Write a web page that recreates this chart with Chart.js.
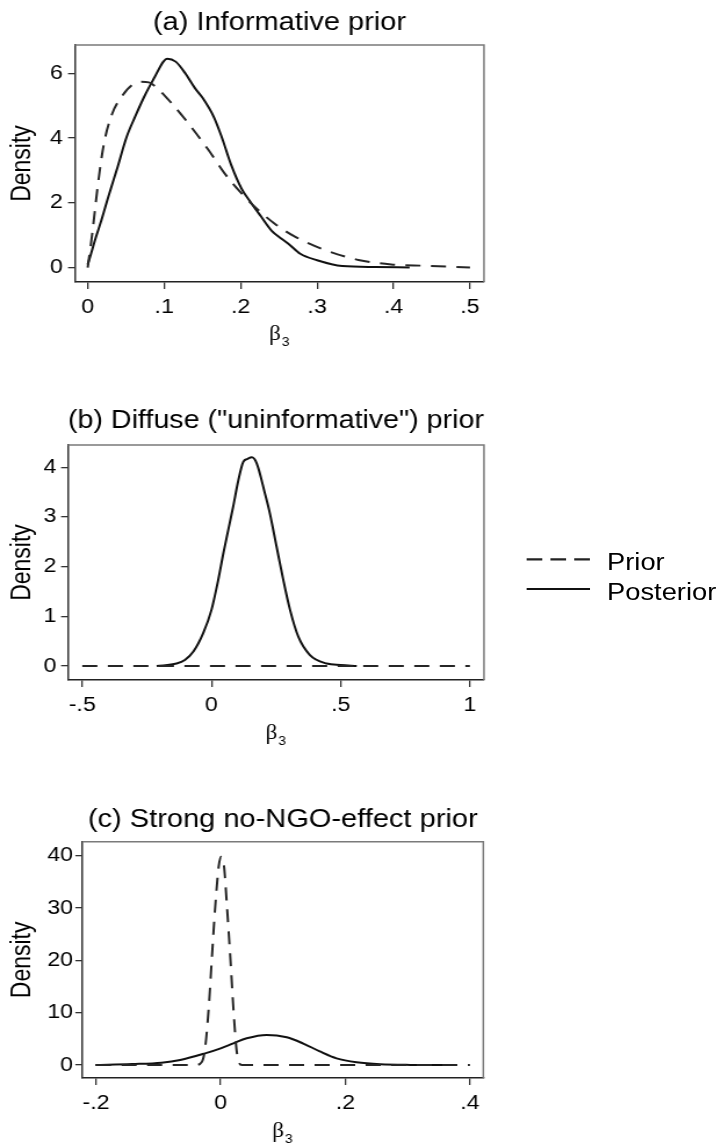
<!DOCTYPE html>
<html><head><meta charset="utf-8">
<script src="https://cdn.jsdelivr.net/npm/chart.js@4.4.1/dist/chart.umd.min.js"></script>
<style>
html,body{margin:0;padding:0;background:#fff;}
#wrap{position:relative;width:622px;height:1143px;transform:scaleX(1.16077);transform-origin:0 0;}
canvas{position:absolute;left:0;}
.leg{position:absolute;font-family:"Liberation Sans",Arial,sans-serif;font-size:23.5px;color:#000;line-height:24px;white-space:nowrap;}
</style></head>
<body>
<div id="wrap">
<canvas id="cA" width="622" height="360" style="top:0px;width:622px;height:360px"></canvas>
<canvas id="cB" width="622" height="390" style="top:360px;width:622px;height:390px"></canvas>
<canvas id="cC" width="622" height="393" style="top:750px;width:622px;height:393px"></canvas>
<svg style="position:absolute;left:0;top:0" width="622" height="1143">
  <line x1="453.7" y1="559.3" x2="508.3" y2="559.3" stroke="#222" stroke-width="2.2" stroke-dasharray="13.5 7"/>
  <line x1="453.7" y1="589" x2="508.3" y2="589" stroke="#111" stroke-width="2.2"/>
</svg>
<div class="leg" style="left:523px;top:550.4px">Prior</div>
<div class="leg" style="left:523px;top:580.4px">Posterior</div>
</div>
<script>
// ---------- data ----------
const seriesNames = ['Prior', 'Posterior'];
const panelTitles = ['(a) Informative prior', '(b) Diffuse ("uninformative") prior', '(c) Strong no-NGO-effect prior'];
const xAxisSymbol = 'β';
const xAxisSubscript = '3';
const yAxisTitle = 'Density';

// (a) Informative prior
const aPriorX = [0, 0.006, 0.013, 0.021, 0.032, 0.045, 0.058, 0.070, 0.080, 0.090, 0.110, 0.1315, 0.158, 0.179, 0.201, 0.223, 0.245, 0.271, 0.310, 0.354, 0.397, 0.441, 0.500];
const aPriorY = [0, 1.06, 2.50, 3.80, 4.75, 5.30, 5.64, 5.74, 5.72, 5.56, 5.07, 4.46, 3.63, 2.91, 2.30, 1.78, 1.35, 0.96, 0.55, 0.24, 0.10, 0.06, 0.01];
const aPostX = [0.000, 0.004, 0.0095, 0.018, 0.027, 0.038, 0.051, 0.062, 0.075, 0.088, 0.099, 0.104, 0.115, 0.127, 0.140, 0.150, 0.165, 0.175, 0.188, 0.201, 0.214, 0.227, 0.241, 0.252, 0.262, 0.278, 0.300, 0.333, 0.376, 0.421];
const aPostY = [0.10, 0.40, 0.85, 1.47, 2.19, 3.02, 4.04, 4.66, 5.33, 5.90, 6.36, 6.45, 6.36, 6.02, 5.55, 5.25, 4.65, 4.05, 3.15, 2.45, 1.99, 1.57, 1.13, 0.92, 0.75, 0.43, 0.23, 0.05, 0.02, 0.01];
const aXTicks = [0, 0.1, 0.2, 0.3, 0.4, 0.5];
const aXLabels = ['0', '.1', '.2', '.3', '.4', '.5'];
const aYTicks = [0, 2, 4, 6];
const aYLabels = ['0', '2', '4', '6'];

// (b) Diffuse prior
const bPriorX = [-0.5, -0.25, 0, 0.25, 0.5, 0.75, 1.0];
const bPriorY = [0, 0, 0, 0, 0, 0, 0];
const bPostX = [-0.212, -0.135, -0.103, -0.070, -0.032, 0.000, 0.026, 0.046, 0.065, 0.084, 0.104, 0.123, 0.140, 0.156, 0.175, 0.207, 0.226, 0.252, 0.278, 0.304, 0.336, 0.381, 0.446, 0.500, 0.562];
const bPostY = [0.00, 0.05, 0.12, 0.29, 0.66, 1.13, 1.73, 2.27, 2.74, 3.21, 3.74, 4.11, 4.17, 4.20, 4.08, 3.47, 3.07, 2.40, 1.73, 1.13, 0.59, 0.22, 0.05, 0.02, 0.00];
const bXTicks = [-0.5, 0, 0.5, 1];
const bXLabels = ['-.5', '0', '.5', '1'];
const bYTicks = [0, 1, 2, 3, 4];
const bYLabels = ['0', '1', '2', '3', '4'];

// (c) Strong no-NGO-effect prior
const cPriorX = [-0.200, -0.100, -0.041, -0.030, -0.0247, -0.019, -0.014, -0.0087, -0.0032, 0.0003, 0.0048, 0.0101, 0.0154, 0.0209, 0.0262, 0.0342, 0.100, 0.200, 0.300, 0.400];
const cPriorY = [0, 0, 0, 0.64, 3.5, 11.2, 20.7, 30.3, 37.9, 39.8, 38.6, 30.3, 20.7, 9.9, 2.2, 0, 0, 0, 0, 0];
const cPostX = [-0.201, -0.142, -0.095, -0.065, -0.025, 0.000, 0.0203, 0.0417, 0.0738, 0.106, 0.1326, 0.159, 0.186, 0.218, 0.256, 0.304, 0.371];
const cPostY = [0.00, 0.19, 0.45, 0.96, 2.23, 3.19, 4.14, 5.10, 5.75, 5.29, 4.10, 2.60, 1.27, 0.51, 0.13, 0.02, 0.00];
const cXTicks = [-0.2, 0, 0.2, 0.4];
const cXLabels = ['-.2', '0', '.2', '.4'];
const cYTicks = [0, 10, 20, 30, 40];
const cYLabels = ['0', '10', '20', '30', '40'];

// ---------- drawing ----------
const SANS = '"Liberation Sans", Arial, sans-serif';
const SERIF = '"Liberation Serif", "Times New Roman", serif';
const W = 622;
const TITLE_PAD_SPACES = '\u2009\u2009';

function pts(xs, ys) { return xs.map((x, i) => ({x: x, y: ys[i]})); }

const boxPlugin = {
  id: 'box',
  afterDraw(c) {
    const a = c.chartArea, ctx = c.ctx;
    ctx.save();
    ctx.strokeStyle = '#7a7a7a';
    ctx.lineWidth = 1.5;
    ctx.beginPath();
    ctx.moveTo(a.left, a.top);
    ctx.lineTo(a.right, a.top);
    ctx.lineTo(a.right, a.bottom);
    ctx.stroke();
    ctx.restore();
  }
};

function subscriptPlugin(xtpb) {
  return {
    id: 'sub',
    afterDraw(c) {
      const s = c.scales.x, a = c.chartArea, ctx = c.ctx;
      ctx.save();
      ctx.font = '20px ' + SERIF;
      const wB = ctx.measureText(xAxisSymbol).width;
      const wF = ctx.measureText(xAxisSymbol + TITLE_PAD_SPACES).width;
      const cx = (a.left + a.right) / 2;
      const midY = s.bottom - (10 + xtpb);
      const baseY = midY + 6.75;
      ctx.font = '12px ' + SANS;
      ctx.fillStyle = '#000';
      ctx.textBaseline = 'alphabetic';
      ctx.textAlign = 'left';
      ctx.fillText(xAxisSubscript, cx - wF / 2 + wB + 0.8, baseY + 4.4);
      ctx.restore();
    }
  };
}

function makePanel(id, p) {
  new Chart(document.getElementById(id), {
    type: 'line',
    data: {
      datasets: [
        {label: seriesNames[0], data: pts(p.priorX, p.priorY), borderColor: '#262626', borderWidth: 2, borderDash: [13, 9], pointRadius: 0, fill: false, cubicInterpolationMode: 'monotone'},
        {label: seriesNames[1], data: pts(p.postX, p.postY), borderColor: '#111', borderWidth: 2, pointRadius: 0, fill: false, cubicInterpolationMode: 'monotone'}
      ]
    },
    options: {
      responsive: false, animation: false, devicePixelRatio: 1,
      layout: {padding: {left: 0, right: W - p.right, top: 0, bottom: 0}},
      plugins: {
        legend: {display: false}, tooltip: {enabled: false},
        title: {display: true, text: p.title, fullSize: false, color: '#000',
          font: {family: SANS, size: 25, weight: 'normal', lineHeight: 1.2},
          padding: {top: p.tpt, bottom: p.tpb}}
      },
      scales: {
        x: {
          type: 'linear', min: p.xmin, max: p.xmax,
          afterBuildTicks: s => { s.ticks = p.xTicks.map(v => ({value: v})); },
          afterFit: s => { s.height = p.xh; },
          ticks: {callback: (v, i) => p.xLabels[i], font: {family: SANS, size: 20}, color: '#000', padding: 6, autoSkip: false, maxRotation: 0, minRotation: 0},
          grid: {display: true, drawOnChartArea: false, drawTicks: true, tickLength: 7, color: '#333', lineWidth: 1.3},
          border: {display: true, color: '#222', width: 1.5},
          title: {display: true, text: xAxisSymbol + TITLE_PAD_SPACES, color: '#000', font: {family: SERIF, size: 20, lineHeight: 1}, padding: {top: 0, bottom: p.xtpb}}
        },
        y: {
          type: 'linear', min: p.ymin, max: p.ymax,
          afterBuildTicks: s => { s.ticks = p.yTicks.map(v => ({value: v})); },
          afterFit: s => { s.width = p.left; },
          ticks: {callback: (v, i) => p.yLabels[i], font: {family: SANS, size: 20}, color: '#000', padding: p.ypad, autoSkip: false},
          grid: {display: true, drawOnChartArea: false, drawTicks: true, tickLength: 6, color: '#333', lineWidth: 1.3},
          border: {display: true, color: '#333', width: 1.5},
          title: {display: true, text: yAxisTitle, color: '#000', font: {family: SANS, size: 23, lineHeight: 1}, padding: {top: 8.5, bottom: 0}}
        }
      }
    },
    plugins: [boxPlugin, subscriptPlugin(p.xtpb)]
  });
}

makePanel('cA', {title: panelTitles[0], priorX: aPriorX, priorY: aPriorY, postX: aPostX, postY: aPostY,
  xTicks: aXTicks, xLabels: aXLabels, yTicks: aYTicks, yLabels: aYLabels,
  xmin: -0.0166, xmax: 0.5183, ymin: -0.441, ymax: 6.873,
  left: 64.61, right: 416.96, tpt: 8.2, tpb: 6.8, xh: 78, xtpb: 15, ypad: 4.5});
makePanel('cB', {title: panelTitles[1], priorX: bPriorX, priorY: bPriorY, postX: bPostX, postY: bPostY,
  xTicks: bXTicks, xLabels: bXLabels, yTicks: bYTicks, yLabels: bYLabels,
  xmin: -0.5552, xmax: 1.0546, ymin: -0.282, ymax: 4.449,
  left: 58.58, right: 416.96, tpt: 46.5, tpb: 8.5, xh: 70, xtpb: 6.5, ypad: 4});
makePanel('cC', {title: panelTitles[2], priorX: cPriorX, priorY: cPriorY, postX: cPostX, postY: cPostY,
  xTicks: cXTicks, xLabels: cXLabels, yTicks: cYTicks, yLabels: cYLabels,
  xmin: -0.222, xmax: 0.4214, ymin: -2.484, ymax: 42.68,
  left: 70.9, right: 416.36, tpt: 54.8, tpb: 6.9, xh: 65, xtpb: 1, ypad: 2});
</script>
</body></html>
